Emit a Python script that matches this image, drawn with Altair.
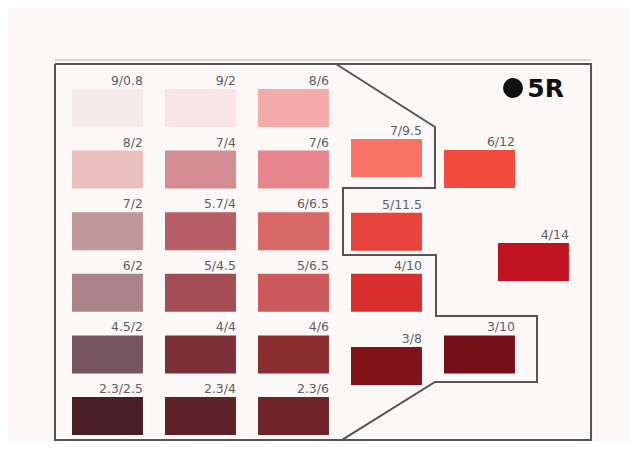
import altair as alt
import pandas as pd

# Munsell 5R chip sheet: chip label, grid column, grid row, chip colour
labels = ["9/0.8", "9/2", "8/6",
          "8/2", "7/4", "7/6", "7/9.5", "6/12",
          "7/2", "5.7/4", "6/6.5", "5/11.5", "4/14",
          "6/2", "5/4.5", "5/6.5", "4/10",
          "4.5/2", "4/4", "4/6", "3/8", "3/10",
          "2.3/2.5", "2.3/4", "2.3/6"]
cols = [0, 1, 2,
        0, 1, 2, 3, 4,
        0, 1, 2, 3, 4.58,
        0, 1, 2, 3,
        0, 1, 2, 3, 4,
        0, 1, 2]
rows = [0, 0, 0,
        1, 1, 1, 0.81, 0.99,
        2, 2, 2, 2.01, 2.5,
        3, 3, 3, 3.0,
        4, 4, 4, 4.19, 4.0,
        5, 5, 5]
colors = ["#f5eaeb", "#f8e3e5", "#f6abab",
          "#ecbfbf", "#d38c92", "#e6868c", "#f87365", "#f34a3e",
          "#c0979b", "#b85e66", "#d86767", "#e8443b", "#c1121f",
          "#aa8489", "#a54d55", "#cc5a5c", "#da2d2d",
          "#765560", "#7d2f37", "#8c2d32", "#80121b", "#770f18",
          "#4a1e25", "#5e2228", "#702428"]

# outline separating the chips (grid units)
outline_x = [2.839, 3.903, 3.903, 2.914, 2.914, 3.914, 3.914, 5.0, 5.0, 3.903, 2.90]
outline_y = [-0.406, 0.617, 1.607, 1.607, 2.695, 2.695, 3.685, 3.685, 4.756, 4.756, 5.70]

frame_x = [-0.183, 5.581, 5.581, -0.183, -0.183]
frame_y = [-0.406, -0.406, 5.70, 5.70, -0.406]

hue_name = "5R"

chips = pd.DataFrame({"label": labels, "col": cols, "row": rows, "color": colors})
outline = pd.DataFrame({"x": outline_x, "y": outline_y, "o": list(range(len(outline_x)))})
frame = pd.DataFrame({"x": frame_x, "y": frame_y, "o": list(range(len(frame_x)))})

CHIP_W = 0.763
CHIP_H = 0.617

xs = alt.Scale(domain=[-0.6882, 5.9892], nice=False, zero=False)
ys = alt.Scale(domain=[-1.3149, 5.7305], nice=False, zero=False, reverse=True)

base = alt.Chart(chips)

rects = base.mark_rect().transform_calculate(
    x2="datum.col + %f" % CHIP_W, y2="datum.row + %f" % CHIP_H
).encode(
    x=alt.X("col:Q", scale=xs, axis=None),
    x2="x2:Q",
    y=alt.Y("row:Q", scale=ys, axis=None),
    y2="y2:Q",
    color=alt.Color("color:N", scale=None),
)

texts = base.mark_text(
    align="right", baseline="alphabetic", dy=-4, font="DejaVu Sans",
    fontSize=12.5, color="#606060"
).transform_calculate(
    xr="datum.col + %f" % CHIP_W
).encode(
    x=alt.X("xr:Q", scale=xs, axis=None),
    y=alt.Y("row:Q", scale=ys, axis=None),
    text="label:N",
)

frame_line = alt.Chart(frame).mark_line(color="#555555", strokeWidth=2).encode(
    x=alt.X("x:Q", scale=xs, axis=None),
    y=alt.Y("y:Q", scale=ys, axis=None),
    order="o:Q",
)

outer_top = alt.Chart(pd.DataFrame({"x": [-0.183, 5.581], "y": [-0.471, -0.471]})).mark_line(
    color="#b0b0b0", strokeWidth=1
).encode(
    x=alt.X("x:Q", scale=xs, axis=None),
    y=alt.Y("y:Q", scale=ys, axis=None),
)

outline_line = alt.Chart(outline).mark_line(color="#555555", strokeWidth=2).encode(
    x=alt.X("x:Q", scale=xs, axis=None),
    y=alt.Y("y:Q", scale=ys, axis=None),
    order="o:Q",
)

hue_df = pd.DataFrame({"x": [4.742], "y": [-0.016], "tx": [4.895], "ty": [0.13], "t": [hue_name]})
dot = alt.Chart(hue_df).mark_point(filled=True, shape="circle", size=400, color="#111111", opacity=1).encode(
    x=alt.X("x:Q", scale=xs, axis=None),
    y=alt.Y("y:Q", scale=ys, axis=None),
)
hue_text = alt.Chart(hue_df).mark_text(
    align="left", baseline="alphabetic", font="DejaVu Sans", fontWeight="bold",
    fontSize=25, color="#111111"
).encode(
    x=alt.X("tx:Q", scale=xs, axis=None),
    y=alt.Y("ty:Q", scale=ys, axis=None),
    text="t:N",
)

chart = alt.layer(outer_top, frame_line, outline_line, rects, texts, dot, hue_text).properties(
    width=621, height=434, padding=0, autosize=alt.AutoSizeParams(type="none"),
    background="#fcf8f8",
).configure_view(stroke=None)

chart.save("out.html", embed_options={"renderer": "svg", "actions": False})
